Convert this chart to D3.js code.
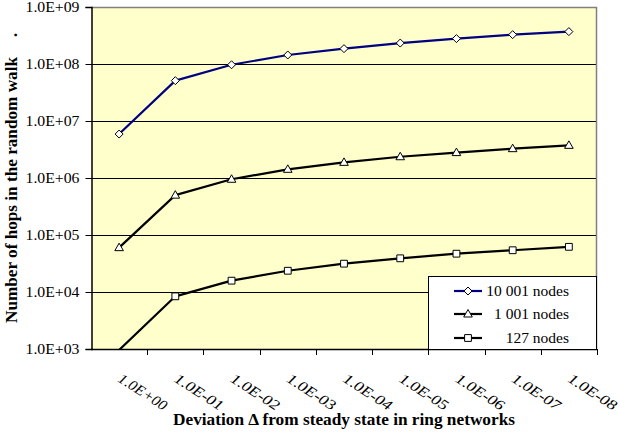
<!DOCTYPE html>
<html>
<head>
<meta charset="utf-8">
<script src="https://cdn.jsdelivr.net/npm/d3@7/dist/d3.min.js"></script>
<style>
  body { margin: 0; background: #fff; }
  svg { display: block; }
</style>
</head>
<body>
<svg id="chart" width="619" height="435" font-family="Liberation Serif"></svg>
<script>
// Deviation from steady state (category axis)
const categories = ["1.0E+00", "1.0E-01", "1.0E-02", "1.0E-03", "1.0E-04",
                    "1.0E-05", "1.0E-06", "1.0E-07", "1.0E-08"];

// Number of random-walk hops per ring size
const nodes10001 = [5.9e6, 5.1e7, 9.7e7, 1.44e8, 1.86e8, 2.33e8, 2.79e8, 3.27e8, 3.7e8];
const nodes1001  = [6.0e4, 5.0e5, 9.5e5, 1.42e6, 1.88e6, 2.36e6, 2.79e6, 3.27e6, 3.74e6];
const nodes127   = [960, 8.4e3, 1.58e4, 2.36e4, 3.14e4, 3.9e4, 4.7e4, 5.4e4, 6.2e4];

const seriesNames = ["10 001 nodes", "1 001 nodes", "127 nodes"];

const yTicks = [1e3, 1e4, 1e5, 1e6, 1e7, 1e8, 1e9];
const yTickLabels = ["1.0E+03", "1.0E+04", "1.0E+05", "1.0E+06", "1.0E+07", "1.0E+08", "1.0E+09"];

const series = [
  { name: seriesNames[0], values: nodes10001, color: "#000080", marker: "diamond" },
  { name: seriesNames[1], values: nodes1001,  color: "#000000", marker: "triangle" },
  { name: seriesNames[2], values: nodes127,   color: "#000000", marker: "square" }
];

const FONT = "Liberation Serif";

const svg = d3.select("#chart");
const plot = { left: 91, right: 597, top: 7, bottom: 349 };

const x = d3.scaleBand().domain(categories).range([plot.left, plot.right]);
const y = d3.scaleLog().domain([1e3, 1e9]).range([plot.bottom, plot.top]);
const cx = c => x(c) + x.bandwidth() / 2;

// Marker shapes
function markerPath(type, px, py) {
  if (type === "diamond") {
    const r = 4;
    return `M${px},${py - r}L${px + r},${py}L${px},${py + r}L${px - r},${py}Z`;
  }
  if (type === "triangle") {
    return `M${px},${py - 4.5}L${px + 4.3},${py + 3}L${px - 4.3},${py + 3}Z`;
  }
  const s = 3.4;
  return `M${px - s},${py - s}h${2 * s}v${2 * s}h${-2 * s}Z`;
}

// Plot background
svg.append("rect")
  .attr("x", plot.left).attr("y", plot.top)
  .attr("width", plot.right - plot.left).attr("height", plot.bottom - plot.top)
  .attr("fill", "#FFFFCC");

// Horizontal gridlines
svg.append("g").selectAll("line").data(yTicks.slice(1, -1)).join("line")
  .attr("x1", plot.left).attr("x2", plot.right)
  .attr("y1", d => Math.round(y(d)) + 0.5).attr("y2", d => Math.round(y(d)) + 0.5)
  .attr("stroke", "#000").attr("stroke-width", 1);

// Plot frame: gray top/right
svg.append("path")
  .attr("d", `M${plot.left},${plot.top + 0.5}H${plot.right - 0.5}V${plot.bottom}`)
  .attr("fill", "none").attr("stroke", "#808080").attr("stroke-width", 1.5);

// Clip for series lines
svg.append("clipPath").attr("id", "plotClip").append("rect")
  .attr("x", plot.left).attr("y", plot.top)
  .attr("width", plot.right - plot.left).attr("height", plot.bottom - plot.top);

const line = d3.line().x((d, i) => cx(categories[i])).y(d => y(d));

const seriesG = svg.append("g").attr("clip-path", "url(#plotClip)");
series.forEach(s => {
  seriesG.append("path")
    .datum(s.values)
    .attr("d", line)
    .attr("fill", "none")
    .attr("stroke", s.color)
    .attr("stroke-width", 2.2)
    .attr("stroke-linejoin", "round");
});
series.forEach(s => {
  const pts = s.values.map((v, i) => ({ v, c: categories[i] })).filter(p => p.v >= 1e3);
  seriesG.append("g").selectAll("path").data(pts).join("path")
    .attr("d", p => markerPath(s.marker, cx(p.c), y(p.v)))
    .attr("fill", "#fff").attr("stroke", "#000").attr("stroke-width", 1);
});

// Y axis
const yAxis = d3.axisLeft(y).tickValues(yTicks).tickSize(6)
  .tickFormat((d, i) => yTickLabels[i]);
const yG = svg.append("g").attr("transform", `translate(${plot.left + 0.5},0)`).call(yAxis);
yG.attr("font-family", FONT);
yG.select(".domain").attr("stroke", "#000").attr("stroke-width", 1.5);
yG.selectAll(".tick line").attr("stroke", "#000");
yG.selectAll(".tick text")
  .attr("x", -12)
  .attr("font-size", 14).attr("fill", "#000")
  .attr("textLength", 54).attr("lengthAdjust", "spacingAndGlyphs");

// X axis line and boundary ticks
svg.append("line")
  .attr("x1", plot.left).attr("x2", plot.right)
  .attr("y1", plot.bottom + 0.5).attr("y2", plot.bottom + 0.5)
  .attr("stroke", "#000").attr("stroke-width", 1.5);
const boundaries = categories.map(c => x(c)).concat([x.range()[1]]);
svg.append("g").selectAll("line").data(boundaries.slice(1)).join("line")
  .attr("x1", d => Math.round(d) + 0.5).attr("x2", d => Math.round(d) + 0.5)
  .attr("y1", plot.bottom).attr("y2", plot.bottom + 6)
  .attr("stroke", "#000").attr("stroke-width", 1);

// Rotated category labels
svg.append("g").selectAll("text").data(categories).join("text")
  .attr("transform", c => `translate(${cx(c) - 2},${plot.bottom + 32}) rotate(33)`)
  .attr("font-size", 14.5).attr("font-style", "italic").attr("fill", "#000")
  .attr("textLength", 55).attr("lengthAdjust", "spacingAndGlyphs")
  .text(c => c);

// Axis titles
svg.append("text")
  .attr("x", 344).attr("y", 425)
  .attr("text-anchor", "middle")
  .attr("font-size", 16.5).attr("font-weight", "bold")
  .attr("textLength", 342).attr("lengthAdjust", "spacingAndGlyphs")
  .text("Deviation Δ from steady state in ring networks");

svg.append("text")
  .attr("transform", "translate(17,190) rotate(-90)")
  .attr("text-anchor", "middle")
  .attr("font-size", 16.5).attr("font-weight", "bold")
  .attr("textLength", 266).attr("lengthAdjust", "spacingAndGlyphs")
  .text("Number of hops in the random walk");
svg.append("text")
  .attr("transform", "translate(17,35) rotate(-90)")
  .attr("text-anchor", "middle")
  .attr("font-size", 16.5).attr("font-weight", "bold")
  .text(".");

// Legend
const lg = svg.append("g");
lg.append("rect")
  .attr("x", 428.5).attr("y", 276.5).attr("width", 168).attr("height", 73)
  .attr("fill", "#fff").attr("stroke", "#000").attr("stroke-width", 1);
const rowY = [291, 314, 338];
series.forEach((s, i) => {
  const ry = rowY[i];
  lg.append("line")
    .attr("x1", 454).attr("x2", 482).attr("y1", ry).attr("y2", ry)
    .attr("stroke", s.color).attr("stroke-width", 2.2);
  lg.append("path")
    .attr("d", markerPath(s.marker, 468, ry))
    .attr("fill", "#fff").attr("stroke", "#000").attr("stroke-width", 1);
  lg.append("text")
    .attr("x", 569).attr("y", ry + 5)
    .attr("text-anchor", "end")
    .attr("font-size", 15.5).attr("fill", "#000")
    .text(s.name);
});
</script>
</body>
</html>
